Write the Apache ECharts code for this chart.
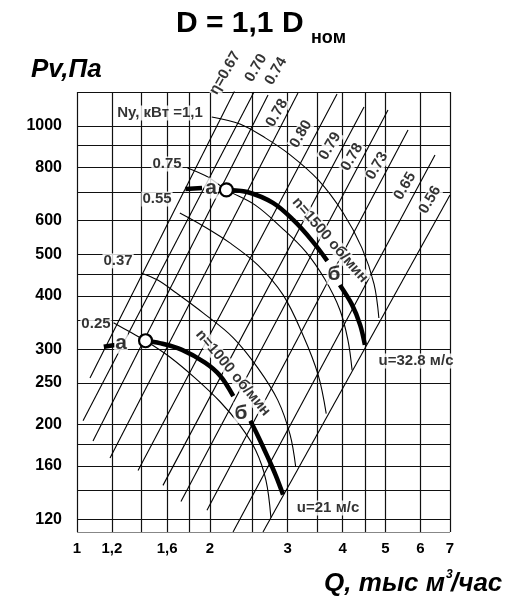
<!DOCTYPE html>
<html>
<head>
<meta charset="utf-8">
<script src="https://cdn.jsdelivr.net/npm/echarts@6/dist/echarts.min.js"></script>
<style>
  html, body { margin: 0; padding: 0; background: #fff; }
  #chart { width: 522px; height: 600px; }
</style>
</head>
<body>
<div id="chart"></div>
<script>
// Axes: flow Q (thousand m3/h) and pressure Pv (Pa), both logarithmic
const qRange = [1, 7];
const pRange = [112, 1200];
const qGrid = [1, 1.2, 1.4, 1.6, 1.8, 2, 2.5, 3, 3.5, 4, 4.5, 5, 6, 7];
const pGrid = [112, 120, 140, 160, 180, 200, 250, 300, 350, 400, 450, 500, 600, 700, 800, 900, 1000, 1200];
const qTicks = [1, 1.2, 1.6, 2, 3, 4, 5, 6, 7];
const pTicks = [120, 160, 200, 250, 300, 400, 500, 600, 800, 1000];

// Fan curve n = 1500 rpm: part left of "a", working range a–б, part after б
const n1500Stub = [[1.76, 711], [1.92, 715]];
const n1500Work = [[2.18, 708], [2.43, 700], [2.78, 660], [3.09, 602], [3.41, 538], [3.69, 483]];
const n1500Tail = [[3.94, 424], [4.20, 381], [4.38, 342], [4.49, 307]];

// Fan curve n = 1000 rpm
const n1000Stub = [[1.15, 304], [1.22, 307]];
const n1000Work = [[1.43, 314], [1.54, 310], [1.73, 299], [1.95, 279], [2.11, 260], [2.26, 233]];
const n1000Tail = [[2.47, 204], [2.57, 188], [2.71, 167], [2.82, 152], [2.93, 137]];

// Points "a" on both curves
const pointsA = [[2.18, 708], [1.43, 314]];

// Motor power curves Ny, kW
const powerValues = ['Ny, кВт =1,1', '0.75', '0.55', '0.37', '0.25'];
const powerCurves = [
  [[2.02, 1049], [2.34, 1010], [2.67, 937], [3.04, 855], [3.52, 747], [4.01, 625], [4.42, 518], [4.71, 426], [4.83, 355]],
  [[1.78, 797], [1.98, 759], [2.18, 708], [2.53, 653], [2.91, 577], [3.30, 507], [3.65, 436], [3.94, 371], [4.11, 315], [4.20, 268]],
  [[1.71, 625], [1.93, 583], [2.22, 532], [2.57, 472], [2.93, 402], [3.25, 324], [3.52, 261], [3.67, 212]],
  [[1.40, 452], [1.52, 436], [1.68, 406], [1.93, 365], [2.26, 319], [2.57, 271], [2.85, 228], [3.04, 189], [3.13, 159]],
  [[1.21, 346], [1.32, 329], [1.43, 314], [1.62, 288], [1.85, 257], [2.11, 226], [2.34, 199], [2.54, 174], [2.68, 148], [2.75, 121]]
];
const powerLabelAt = [[1.542, 1072], [1.599, 814], [1.518, 674], [1.239, 483], [1.104, 344]];

// Constant efficiency rays
const etaValues = ['η=0.67', '0.70', '0.74', '0.78', '0.80', '0.79', '0.78', '0.73', '0.65', '0.56'];
const rayStart = [[1.070, 257], [1.032, 204], [1.087, 183], [1.188, 167], [1.375, 156], [1.566, 144], [1.720, 132], [1.970, 126], [2.257, 112], [2.639, 112]];
const rayEnd = [[2.341, 1280], [2.518, 1200], [2.709, 1181], [3.167, 1194], [3.883, 1187], [4.470, 1107], [5.065, 1089], [5.623, 978], [6.473, 855], [7.0, 689]];
const etaLabelAt = [[2.165, 1329], [2.545, 1366], [2.824, 1344], [2.839, 1072], [3.217, 957], [3.743, 897], [4.198, 845], [4.782, 806], [5.535, 723], [6.306, 671]];

// Curve notes: text, anchor, rotation
const curveNotes = [
  ['a', [2.012, 715], 0],
  ['a', [1.258, 310], 0],
  ['б', [3.823, 450], 0],
  ['б', [2.353, 213], 0]
];
const speedNotes = [
  ['n=1500 об/мин', [3.743, 540], -49],
  ['n=1000 об/мин', [2.257, 264], -50]
];
const speedTipNotes = [
  ['u=32.8 м/с', [5.863, 281.5]],
  ['u=21 м/с', [3.705, 127.5]]
];

const FONT = '"Liberation Sans", Arial, sans-serif';
const INK = '#000';

const chart = echarts.init(document.getElementById('chart'), null, { renderer: 'canvas' });

function curve(data, width, z) {
  return {
    type: 'line', data, smooth: 0.35, showSymbol: false, silent: true, clip: false, z,
    lineStyle: { color: INK, width, cap: 'butt', opacity: 1 }
  };
}

function notes(items, style, z) {
  return {
    type: 'scatter', symbolSize: 0, silent: true, clip: false, z: z || 6,
    data: items.map(([text, pos, rot]) => ({
      value: pos,
      label: Object.assign({
        show: true, position: 'inside', formatter: text, rotate: rot || 0,
        color: INK, fontFamily: FONT, fontWeight: 'bold'
      }, style)
    }))
  };
}

const series = [];

// grid
series.push({
  type: 'lines', coordinateSystem: 'cartesian2d', silent: true, z: 1,
  lineStyle: { color: '#111', width: 1.2, opacity: 1 },
  data: qGrid.map(q => ({ coords: [[q, pRange[0]], [q, pRange[1]]] }))
    .concat(pGrid.map(p => ({ coords: [[qRange[0], p], [qRange[1], p]] })))
});

// efficiency rays
series.push({
  type: 'lines', coordinateSystem: 'cartesian2d', silent: true, z: 2,
  lineStyle: { color: INK, width: 1.1, opacity: 1 },
  data: rayStart.map((s, i) => ({ coords: [s, rayEnd[i]] }))
});

// power curves
powerCurves.forEach(c => series.push(curve(c, 1.1, 2)));

// fan curves
[n1500Stub, n1500Work, n1500Tail, n1000Stub, n1000Work, n1000Tail].forEach(c => series.push(curve(c, 4.5, 4)));

// labels
const labelBox = { backgroundColor: '#fff', padding: [0, 1] };
series.push(notes(etaValues.map((t, i) => [t, etaLabelAt[i], 60]), Object.assign({ fontSize: 15 }, labelBox)));
series.push(notes(powerValues.map((t, i) => [t, powerLabelAt[i], 0]), Object.assign({ fontSize: 15 }, labelBox)));
series.push(notes(curveNotes, { fontSize: 21, backgroundColor: '#fff', padding: [0, 1] }));
series.push(notes(speedNotes, Object.assign({ fontSize: 15 }, labelBox)));
series.push(notes(speedTipNotes, Object.assign({ fontSize: 15 }, labelBox)));

// points "a"
series.push({
  type: 'scatter', data: pointsA, symbol: 'circle', symbolSize: 13, silent: true, z: 8,
  itemStyle: { color: '#fff', borderColor: INK, borderWidth: 2.2, opacity: 1 }
});

chart.setOption({
  animation: false,
  backgroundColor: '#fff',
  grid: { left: 77, top: 92, width: 373, height: 440, containLabel: false, outerBoundsMode: 'none' },
  xAxis: {
    type: 'log', logBase: 10, min: qRange[0], max: qRange[1],
    axisLine: { show: false }, axisTick: { show: false }, splitLine: { show: false },
    axisLabel: {
      customValues: qTicks, margin: 9, color: INK, fontFamily: FONT, fontWeight: 'bold', fontSize: 15,
      formatter: v => String(+(+v).toFixed(2)).replace('.', ','), hideOverlap: false
    }
  },
  yAxis: {
    type: 'log', logBase: 10, min: pRange[0], max: pRange[1],
    axisLine: { show: false }, axisTick: { show: false }, splitLine: { show: false },
    axisLabel: {
      customValues: pTicks, margin: 15, color: INK, fontFamily: FONT, fontWeight: 'bold', fontSize: 16,
      formatter: v => String(Math.round(v)), hideOverlap: false
    }
  },
  graphic: [
    { type: 'text', left: 176, top: 9, silent: true,
      style: { text: 'D = 1,1 D', font: 'bold 30px ' + FONT, fill: INK } },
    { type: 'text', left: 311, top: 29, silent: true,
      style: { text: 'ном', font: 'bold 18px ' + FONT, fill: INK } },
    { type: 'text', left: 31, top: 57, silent: true,
      style: { text: 'Pv,Па', font: 'italic bold 26px ' + FONT, fill: INK } },
    { type: 'text', right: 77, top: 571, silent: true,
      style: { text: 'Q, тыс м', font: 'italic bold 26px ' + FONT, fill: INK } },
    { type: 'text', left: 446, top: 569, silent: true,
      style: { text: '3', font: 'italic bold 12px ' + FONT, fill: INK } },
    { type: 'text', left: 451, top: 571, silent: true,
      style: { text: '/час', font: 'italic bold 26px ' + FONT, fill: INK } }
  ],
  series
});
</script>
</body>
</html>
